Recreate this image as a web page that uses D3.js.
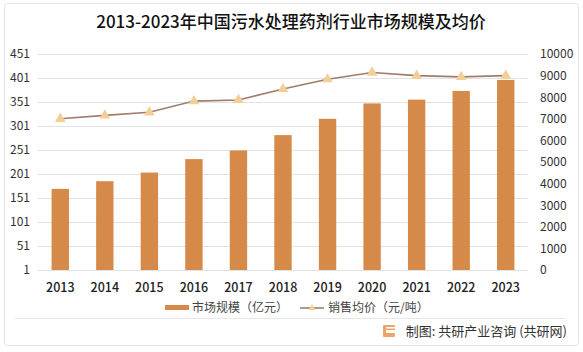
<!DOCTYPE html>
<html lang="zh">
<head>
<meta charset="UTF-8">
<title>污水处理药剂行业市场规模及均价</title>
<script src="https://cdn.jsdelivr.net/npm/d3@7/dist/d3.min.js"></script>
<style>
    body { margin: 0; background: #fff; }
    text { font-family: "Noto Sans CJK SC", "Noto Sans", sans-serif; }
</style>
</head>
<body>
<svg id="chart" width="583" height="352"></svg>
<script>
    var years = ['2013','2014','2015','2016','2017','2018','2019','2020','2021','2022','2023']
    var marketSize = [170, 186, 204, 232, 250, 282, 316, 348, 356, 374, 397]   // 亿元
    var avgPrice = [7000, 7160, 7300, 7820, 7870, 8380, 8830, 9140, 9000, 8940, 9000]  // 元/吨
    var leftTicks = [1, 51, 101, 151, 201, 251, 301, 351, 401, 451]
    var rightTicks = [0, 1000, 2000, 3000, 4000, 5000, 6000, 7000, 8000, 9000, 10000]

    var width = 583, height = 352
    var plotLeft = 38, plotRight = 528, plotTop = 54, plotBottom = 270
    var barColor = '#D58A49', lineColor = '#9E7E6A', markColor = '#F3CF96'

    var svg = d3.select('#chart')

    // 外框
    svg.append('rect')
        .attr('x', 4.5).attr('y', 3.5)
        .attr('width', 574).attr('height', 342)
        .attr('rx', 3)
        .style('fill', 'none').style('stroke', '#e3e3e3')

    svg.append('text')
        .attr('x', 291).attr('y', 28)
        .style('text-anchor', 'middle')
        .style('font-size', '17px').style('font-weight', '500')
        .style('fill', '#111')
        .text('2013-2023年中国污水处理药剂行业市场规模及均价')

    var x = d3.scaleBand().domain(years).range([plotLeft, plotRight]).paddingInner(0.61).paddingOuter(0.305)
    var yL = d3.scaleLinear().domain([1, 451]).range([plotBottom, plotTop])
    var yR = d3.scaleLinear().domain([0, 10000]).range([plotBottom, plotTop])

    // 网格线
    svg.append('g').selectAll('line').data(leftTicks).enter().append('line')
        .attr('x1', plotLeft).attr('x2', plotRight)
        .attr('y1', function(d){ return Math.round(yL(d)) + 0.5 })
        .attr('y2', function(d){ return Math.round(yL(d)) + 0.5 })
        .style('stroke', '#e2e2e2')

    var axisL = svg.append('g').attr('transform', 'translate(' + 30 + ',0)')
        .call(d3.axisLeft(yL).tickValues(leftTicks).tickSize(0).tickPadding(0))
    axisL.select('.domain').remove()
    axisL.selectAll('text').style('font-size', '12px').style('fill', '#333')
        .attr('x', 0).style('text-anchor', 'end')

    var axisR = svg.append('g').attr('transform', 'translate(' + 540 + ',0)')
        .call(d3.axisRight(yR).tickValues(rightTicks).tickFormat(d3.format('d')).tickSize(0).tickPadding(0))
    axisR.select('.domain').remove()
    axisR.selectAll('text').style('font-size', '12px').style('fill', '#333')

    var axisX = svg.append('g').attr('transform', 'translate(0,' + plotBottom + ')')
        .call(d3.axisBottom(x).tickSize(0).tickPadding(13))
    axisX.select('.domain').remove()
    axisX.selectAll('text').style('font-size', '12.5px').style('fill', '#222').style('font-weight', '500')

    // 柱子
    svg.append('g').selectAll('rect').data(years).enter().append('rect')
        .attr('x', function(d){ return x(d) })
        .attr('width', x.bandwidth())
        .attr('y', function(d, i){ return yL(marketSize[i]) })
        .attr('height', function(d, i){ return plotBottom - yL(marketSize[i]) })
        .style('fill', barColor)

    // 折线
    var line = d3.line()
        .x(function(d, i){ return x(years[i]) + x.bandwidth() / 2 })
        .y(function(d){ return yR(d) })
    svg.append('path').datum(avgPrice)
        .attr('d', line)
        .style('fill', 'none').style('stroke', lineColor).style('stroke-width', 1.6)

    var tri = d3.symbol().type(d3.symbolTriangle).size(50)
    svg.append('g').selectAll('path').data(avgPrice).enter().append('path')
        .attr('d', tri)
        .attr('transform', function(d, i){
            return 'translate(' + (x(years[i]) + x.bandwidth() / 2) + ',' + yR(d) + ')'
        })
        .style('fill', markColor)

    // 图例
    var lg = svg.append('g')
    lg.append('rect').attr('x', 165).attr('y', 305).attr('width', 24).attr('height', 5).style('fill', barColor)
    lg.append('text').attr('x', 192).attr('y', 312).style('font-size', '12px').style('fill', '#444').text('市场规模（亿元）')
    lg.append('line').attr('x1', 300).attr('x2', 324).attr('y1', 308).attr('y2', 308)
        .style('stroke', lineColor).style('stroke-width', 1.6)
    lg.append('path').attr('d', d3.symbol().type(d3.symbolTriangle).size(20))
        .attr('transform', 'translate(312,308)').style('fill', markColor)
    lg.append('text').attr('x', 328).attr('y', 312).style('font-size', '12px').style('fill', '#444').text('销售均价（元/吨）')

    // 分隔线与来源
    svg.append('line').attr('x1', 15).attr('x2', 566).attr('y1', 318.5).attr('y2', 318.5).style('stroke', '#e6e6e6')
    var logo = svg.append('g').attr('transform', 'translate(383,325)')
    logo.append('rect').attr('width', 12).attr('height', 12).attr('rx', 1).style('fill', '#F0A468')
    logo.append('rect').attr('x', 3).attr('y', 5).attr('width', 9).attr('height', 3).style('fill', '#fff')
    logo.append('rect').attr('x', 3).attr('y', 2).attr('width', 9).attr('height', 1.5).style('fill', '#fff')
    svg.append('text').attr('x', 567).attr('y', 336)
        .style('text-anchor', 'end').style('font-size', '13px').style('fill', '#333')
        .text('制图: 共研产业咨询 (共研网)')
</script>
</body>
</html>
